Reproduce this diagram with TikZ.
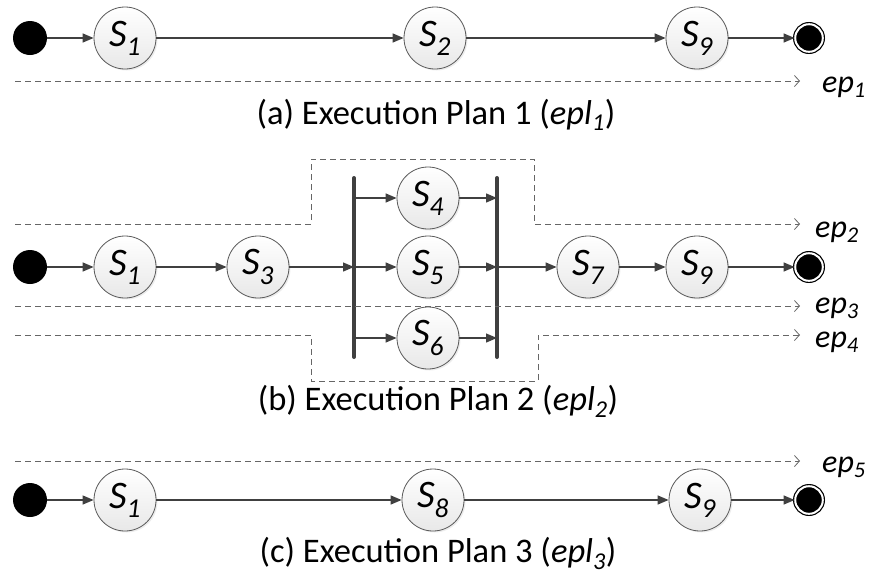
\documentclass[tikz,border=0pt]{standalone}
\usepackage{fontspec}
\setmainfont{Carlito}
\usetikzlibrary{arrows.meta,shadows}

\begin{document}
\begin{tikzpicture}[x = 1pt,
                    y = -1pt,
                    color = {black}]
% styles
\tikzset{state/.style={circle,draw=black!65,line width=0.8pt,minimum size=62pt,inner sep=0pt,
  top color=white,bottom color=black!9,
  drop shadow={opacity=0.15,shadow xshift=1.5pt,shadow yshift=-1.5pt},
  font=\fontsize{39}{44}\selectfont\itshape}}
\tikzset{initial/.style={circle,fill=black,minimum size=34pt,inner sep=0pt}}
\tikzset{final/.style={circle,draw=black,fill=black,double=white,double distance=2pt,
  line width=1.2pt,minimum size=27.6pt,inner sep=0pt}}
\tikzset{arr/.style={draw=black!75,line width=1.3pt,-{Triangle[length=11pt,width=9pt]}}}
\tikzset{plan/.style={draw=black!60,line width=1pt,dash pattern=on 6pt off 4pt,
  -{Straight Barb[length=5pt,width=11pt,line width=0.8pt]}}}
\tikzset{forkbar/.style={draw=black!75,line width=4pt,line cap=round}}
\tikzset{eplabel/.style={anchor=base west,inner sep=0pt,font=\fontsize{32}{36}\selectfont\itshape}}
\tikzset{caption/.style={anchor=base,inner sep=0pt,font=\fontsize{34.5}{40}\selectfont}}

\useasboundingbox (0,0) rectangle (869,579);

%plan 1
\node[initial] (a0) at (30,38) {};
\node[state] (a1) at (125,38) {S\textsubscript{1}};
\node[state] (a2) at (435,38) {S\textsubscript{2}};
\node[state] (a9) at (697,38) {S\textsubscript{9}};
\node[final] (aF) at (809,38) {};
\draw[arr] (a0) -- (a1);
\draw[arr] (a1) -- (a2);
\draw[arr] (a2) -- (a9);
\draw[arr] (a9) -- (aF);
% execution path
\coordinate (p1s) at (15,81);
\coordinate (p1e) at (800,81);
\draw[plan] (p1s) -- (p1e);
\node[eplabel] (ep1) at (822,92) {ep\textsubscript{1}};
\node[caption] (capa) at (436,124) {(a) Execution Plan 1 (\textit{epl\textsubscript{1}})};

%plan 2
\node[initial] (b0) at (30,267) {};
\node[state] (b1) at (125,267) {S\textsubscript{1}};
\node[state] (b3) at (258,267) {S\textsubscript{3}};
\node[state] (b4) at (428,198) {S\textsubscript{4}};
\node[state] (b5) at (428,267) {S\textsubscript{5}};
\node[state] (b6) at (428,338) {S\textsubscript{6}};
\node[state] (b7) at (588,267) {S\textsubscript{7}};
\node[state] (b9) at (697,267) {S\textsubscript{9}};
\node[final] (bF) at (809,267) {};
% fork and join bars
\coordinate (fork1) at (354,178);
\coordinate (fork2) at (354,357);
\coordinate (join1) at (497,178);
\coordinate (join2) at (497,357);
\draw[forkbar] (fork1) -- (fork2);
\draw[forkbar] (join1) -- (join2);
\draw[arr] (b0) -- (b1);
\draw[arr] (b1) -- (b3);
\draw[arr] (b3) -- (b3 -| fork1);
\draw[arr] (b4 -| fork1) -- (b4);
\draw[arr] (b5 -| fork1) -- (b5);
\draw[arr] (b6 -| fork1) -- (b6);
\draw[arr] (b4) -- (b4 -| join1);
\draw[arr] (b5) -- (b5 -| join1);
\draw[arr] (b6) -- (b6 -| join1);
\draw[arr] (b7 -| join1) -- (b7);
\draw[arr] (b7) -- (b9);
\draw[arr] (b9) -- (bF);
% execution paths
\coordinate (p2s) at (15,224);
\coordinate (p2e) at (800,224);
\draw[plan] (p2s) -- (311,224) -- (311,159) -- (534,159) -- (534,224) -- (p2e);
\coordinate (p3s) at (15,306);
\coordinate (p3e) at (800,306);
\draw[plan] (p3s) -- (p3e);
\coordinate (p4s) at (15,335);
\coordinate (p4e) at (800,335);
\draw[plan] (p4s) -- (311,335) -- (311,381) -- (538,381) -- (538,335) -- (p4e);
\node[eplabel] (ep2) at (815,237) {ep\textsubscript{2}};
\node[eplabel] (ep3) at (815,313) {ep\textsubscript{3}};
\node[eplabel] (ep4) at (815,347) {ep\textsubscript{4}};
\node[caption] (capb) at (438,410) {(b) Execution Plan 2 (\textit{epl\textsubscript{2}})};

%plan 3
\coordinate (p5s) at (15,461);
\coordinate (p5e) at (800,461);
\draw[plan] (p5s) -- (p5e);
\node[eplabel] (ep5) at (822,472) {ep\textsubscript{5}};
\node[initial] (c0) at (30,500) {};
\node[state] (c1) at (125,500) {S\textsubscript{1}};
\node[state] (c8) at (433,500) {S\textsubscript{8}};
\node[state] (c9) at (700,500) {S\textsubscript{9}};
\node[final] (cF) at (809,500) {};
\draw[arr] (c0) -- (c1);
\draw[arr] (c1) -- (c8);
\draw[arr] (c8) -- (c9);
\draw[arr] (c9) -- (cF);
\node[caption] (capc) at (438,562) {(c) Execution Plan 3 (\textit{epl\textsubscript{3}})};
\end{tikzpicture}
\end{document}
